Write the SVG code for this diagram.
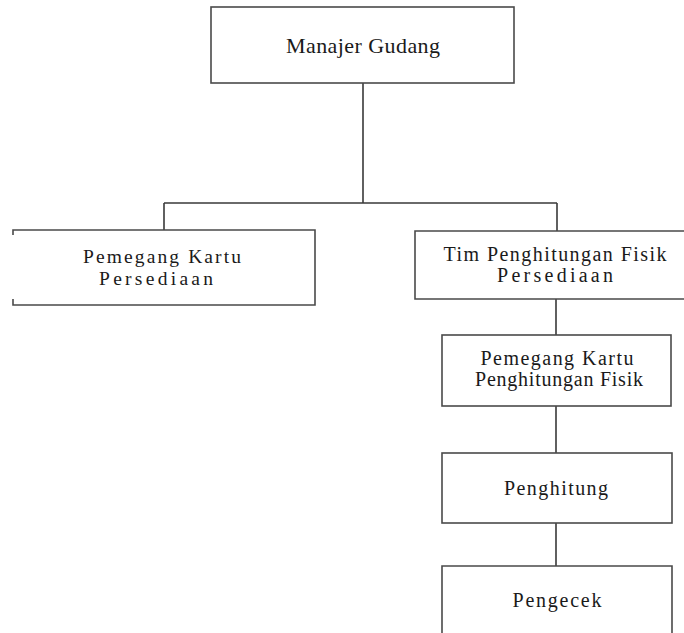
<svg xmlns="http://www.w3.org/2000/svg" width="684" height="633" viewBox="0 0 684 633">
<style>
.box{fill:#fff;stroke:#4a4a4a;stroke-width:1.6}
.ln{fill:none;stroke:#3a3a3a;stroke-width:1.6}
text{font-family:"Liberation Serif","Times New Roman",serif;fill:#1a1a1a;text-anchor:middle}
</style>
<rect width="684" height="633" fill="#fff"/>
<g id="connectors">
<path class="ln" d="M363 83V203M164 203H557M164 203V230M557 203V231M556 299V335M556 406V453M556 523V566"/>
</g>
<g id="manajer">
<rect class="box" x="211" y="7" width="303" height="76" stroke="#2a2a2a"/>
<text x="363" y="53" font-size="22" textLength="154" lengthAdjust="spacing">Manajer Gudang</text>
</g>
<g id="pemegang-kartu-persediaan">
<path class="box" d="M13 235V230H315V305H13V299"/>
<text x="162" y="263" font-size="19.5" textLength="158" lengthAdjust="spacing">Pemegang Kartu</text>
<text x="156" y="285" font-size="19.5" textLength="114" lengthAdjust="spacing">Persediaan</text>
</g>
<g id="tim-penghitungan">
<path class="box" d="M690 231H415V299H690"/>
<text x="555" y="261" font-size="20" textLength="223" lengthAdjust="spacing">Tim Penghitungan Fisik</text>
<text x="555" y="282" font-size="20" textLength="116" lengthAdjust="spacing">Persediaan</text>
</g>
<g id="pemegang-kartu-penghitungan">
<rect class="box" x="442" y="335" width="229" height="71"/>
<text x="557" y="365" font-size="20" textLength="153" lengthAdjust="spacing">Pemegang Kartu</text>
<text x="559" y="386" font-size="20" textLength="168" lengthAdjust="spacing">Penghitungan Fisik</text>
</g>
<g id="penghitung">
<rect class="box" x="442" y="453" width="230" height="70"/>
<text x="556" y="495" font-size="20" textLength="104" lengthAdjust="spacing">Penghitung</text>
</g>
<g id="pengecek">
<path class="box" d="M442 640V566H672V640"/>
<text x="557" y="607" font-size="20" textLength="89" lengthAdjust="spacing">Pengecek</text>
</g>
</svg>
